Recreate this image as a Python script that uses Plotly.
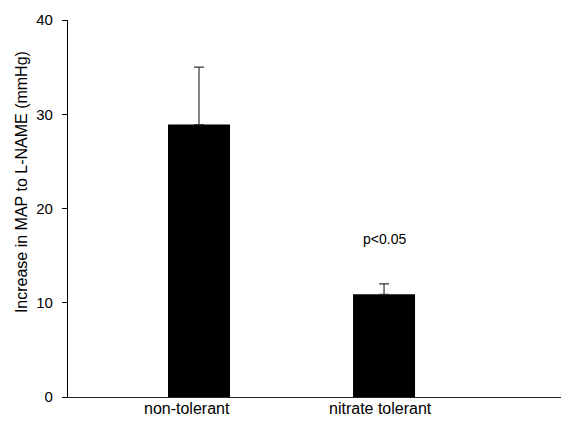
import plotly.graph_objects as go

categories = ["non-tolerant", "nitrate tolerant"]
means = [28.9, 10.9]
sem = [6.1, 1.1]
y_ticks = [0, 10, 20, 30, 40]
y_title = "Increase in MAP to L-NAME (mmHg)"
annotation_text = "p<0.05"
annotation_y = 16.8

x_pos = [1, 2]
label_offsets = [-0.065, -0.02]
FONT = "Liberation Sans, Arial, Helvetica, sans-serif"

fig = go.Figure()
fig.add_trace(go.Bar(
    x=x_pos, y=means, width=0.335,
    marker=dict(color="black", line=dict(width=0)),
    error_y=dict(type="data", array=sem, arrayminus=[0, 0], symmetric=False,
                 color="#333333", thickness=1.2, width=5),
    showlegend=False,
))

for xp, off, lab in zip(x_pos, label_offsets, categories):
    fig.add_annotation(x=xp + off, y=0, yref="y",
                       text=lab, showarrow=False, yanchor="top", yshift=-1,
                       font=dict(family=FONT, size=16, color="black"))

fig.add_annotation(x=x_pos[1], y=annotation_y, text=annotation_text, showarrow=False,
                   font=dict(family=FONT, size=14, color="black"))

# y-axis title (placed as in the reference, slightly above the axis middle)
fig.add_annotation(x=-0.0946, xref="paper", y=22.8, yref="y", text=y_title,
                   textangle=-90, showarrow=False, xanchor="center", yanchor="middle",
                   font=dict(family=FONT, size=16, color="black"))

# the page body adds an 8px margin; the figure is sized/margined to compensate
fig.update_layout(
    width=561, height=415,
    margin=dict(l=60, r=4, t=12, b=26),
    paper_bgcolor="white", plot_bgcolor="white",
    font=dict(family=FONT, color="black"),
    xaxis=dict(range=[0.292, 2.978], showticklabels=False, ticks="",
               showgrid=False, zeroline=False, showline=True, automargin=False,
               linecolor="#222222", linewidth=1),
    yaxis=dict(range=[0, 40], tickvals=y_ticks, ticks="outside", ticklen=5,
               tickcolor="black", tickwidth=1, ticklabelstandoff=6,
               showgrid=False, zeroline=False, showline=True, automargin=False,
               linecolor="black", linewidth=1.3,
               tickfont=dict(family=FONT, size=15, color="black")),
)

fig.write_html("out.html")
